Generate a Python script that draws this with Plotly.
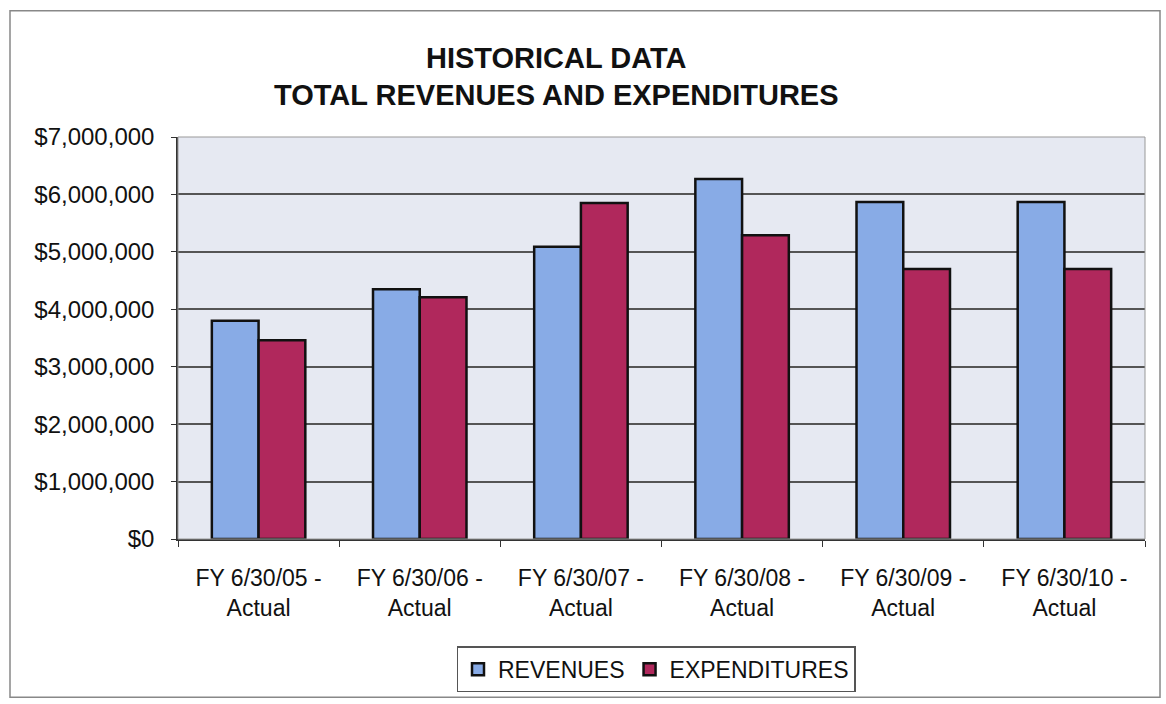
import plotly.graph_objects as go

categories = ["FY 6/30/05 -<br>Actual", "FY 6/30/06 -<br>Actual", "FY 6/30/07 -<br>Actual",
              "FY 6/30/08 -<br>Actual", "FY 6/30/09 -<br>Actual", "FY 6/30/10 -<br>Actual"]
revenues = [3800000, 4350000, 5090000, 6270000, 5870000, 5870000]
expenditures = [3460000, 4210000, 5850000, 5290000, 4700000, 4700000]
tick_vals = [0, 1000000, 2000000, 3000000, 4000000, 5000000, 6000000, 7000000]
title_lines = ["HISTORICAL DATA", "TOTAL REVENUES AND EXPENDITURES"]

W, H = 1166, 704
ml, mr, mt, mb = 178, 21, 137, 163
font = "Arial, Liberation Sans, sans-serif"

fig = go.Figure()
fig.add_trace(go.Bar(x=categories, y=revenues, name="REVENUES",
                     marker=dict(color="#88ABE6", line=dict(color="#111111", width=2.5))))
fig.add_trace(go.Bar(x=categories, y=expenditures, name="EXPENDITURES",
                     marker=dict(color="#B0285C", line=dict(color="#111111", width=2.5))))

pw = W - ml - mr
ph = H - mt - mb

def px_x(x):
    return (x - ml) / pw

def px_y(y):
    return (H - mb - y) / ph

fig.update_layout(
    width=W, height=H,
    margin=dict(l=ml, r=mr, t=mt, b=mb),
    paper_bgcolor="white", plot_bgcolor="#E6E9F2",
    barmode="group", bargap=0.42, bargroupgap=0,
    font=dict(family=font, size=23, color="#111111"),
    legend=dict(orientation="h", x=px_x(656), xanchor="center",
                y=px_y(672), yanchor="middle",
                bordercolor="#555555", borderwidth=1.5, bgcolor="white",
                font=dict(size=23), itemwidth=30, traceorder="normal"),
    showlegend=True,
)

# two-line title as separate annotations
for text, yc in zip(title_lines, [58, 95]):
    fig.add_annotation(text="<b>%s</b>" % text, xref="paper", yref="paper",
                       x=px_x(556), y=px_y(yc), xanchor="center", yanchor="middle",
                       showarrow=False, font=dict(family=font, size=29, color="#111111"))

fig.update_yaxes(range=[0, 7000000], tickvals=tick_vals,
                 tickformat="$,.0f", showgrid=True, gridcolor="#555555", gridwidth=1.5,
                 showline=True, linecolor="#333333", linewidth=1.5,
                 ticks="outside", ticklen=5, tickcolor="#333333", zeroline=False,
                 ticklabelstandoff=12, tickfont=dict(size=24))
fig.update_xaxes(showline=True, linecolor="#333333", linewidth=1.5,
                 ticks="outside", ticklen=6, tickcolor="#333333", tickson="boundaries",
                 showgrid=False, ticklabelstandoff=18)

# plot area frame and outer chart border
fig.add_shape(type="rect", xref="paper", yref="paper", x0=0, x1=1, y0=0, y1=1,
              line=dict(color="#999999", width=1), layer="above")
fig.add_shape(type="rect", xref="paper", yref="paper",
              x0=px_x(10), x1=px_x(1160), y0=px_y(700), y1=px_y(10),
              line=dict(color="#888888", width=1.5), layer="below")

fig.write_html("out.html", config={"displayModeBar": False},
               post_script="document.body.style.margin='0';")
